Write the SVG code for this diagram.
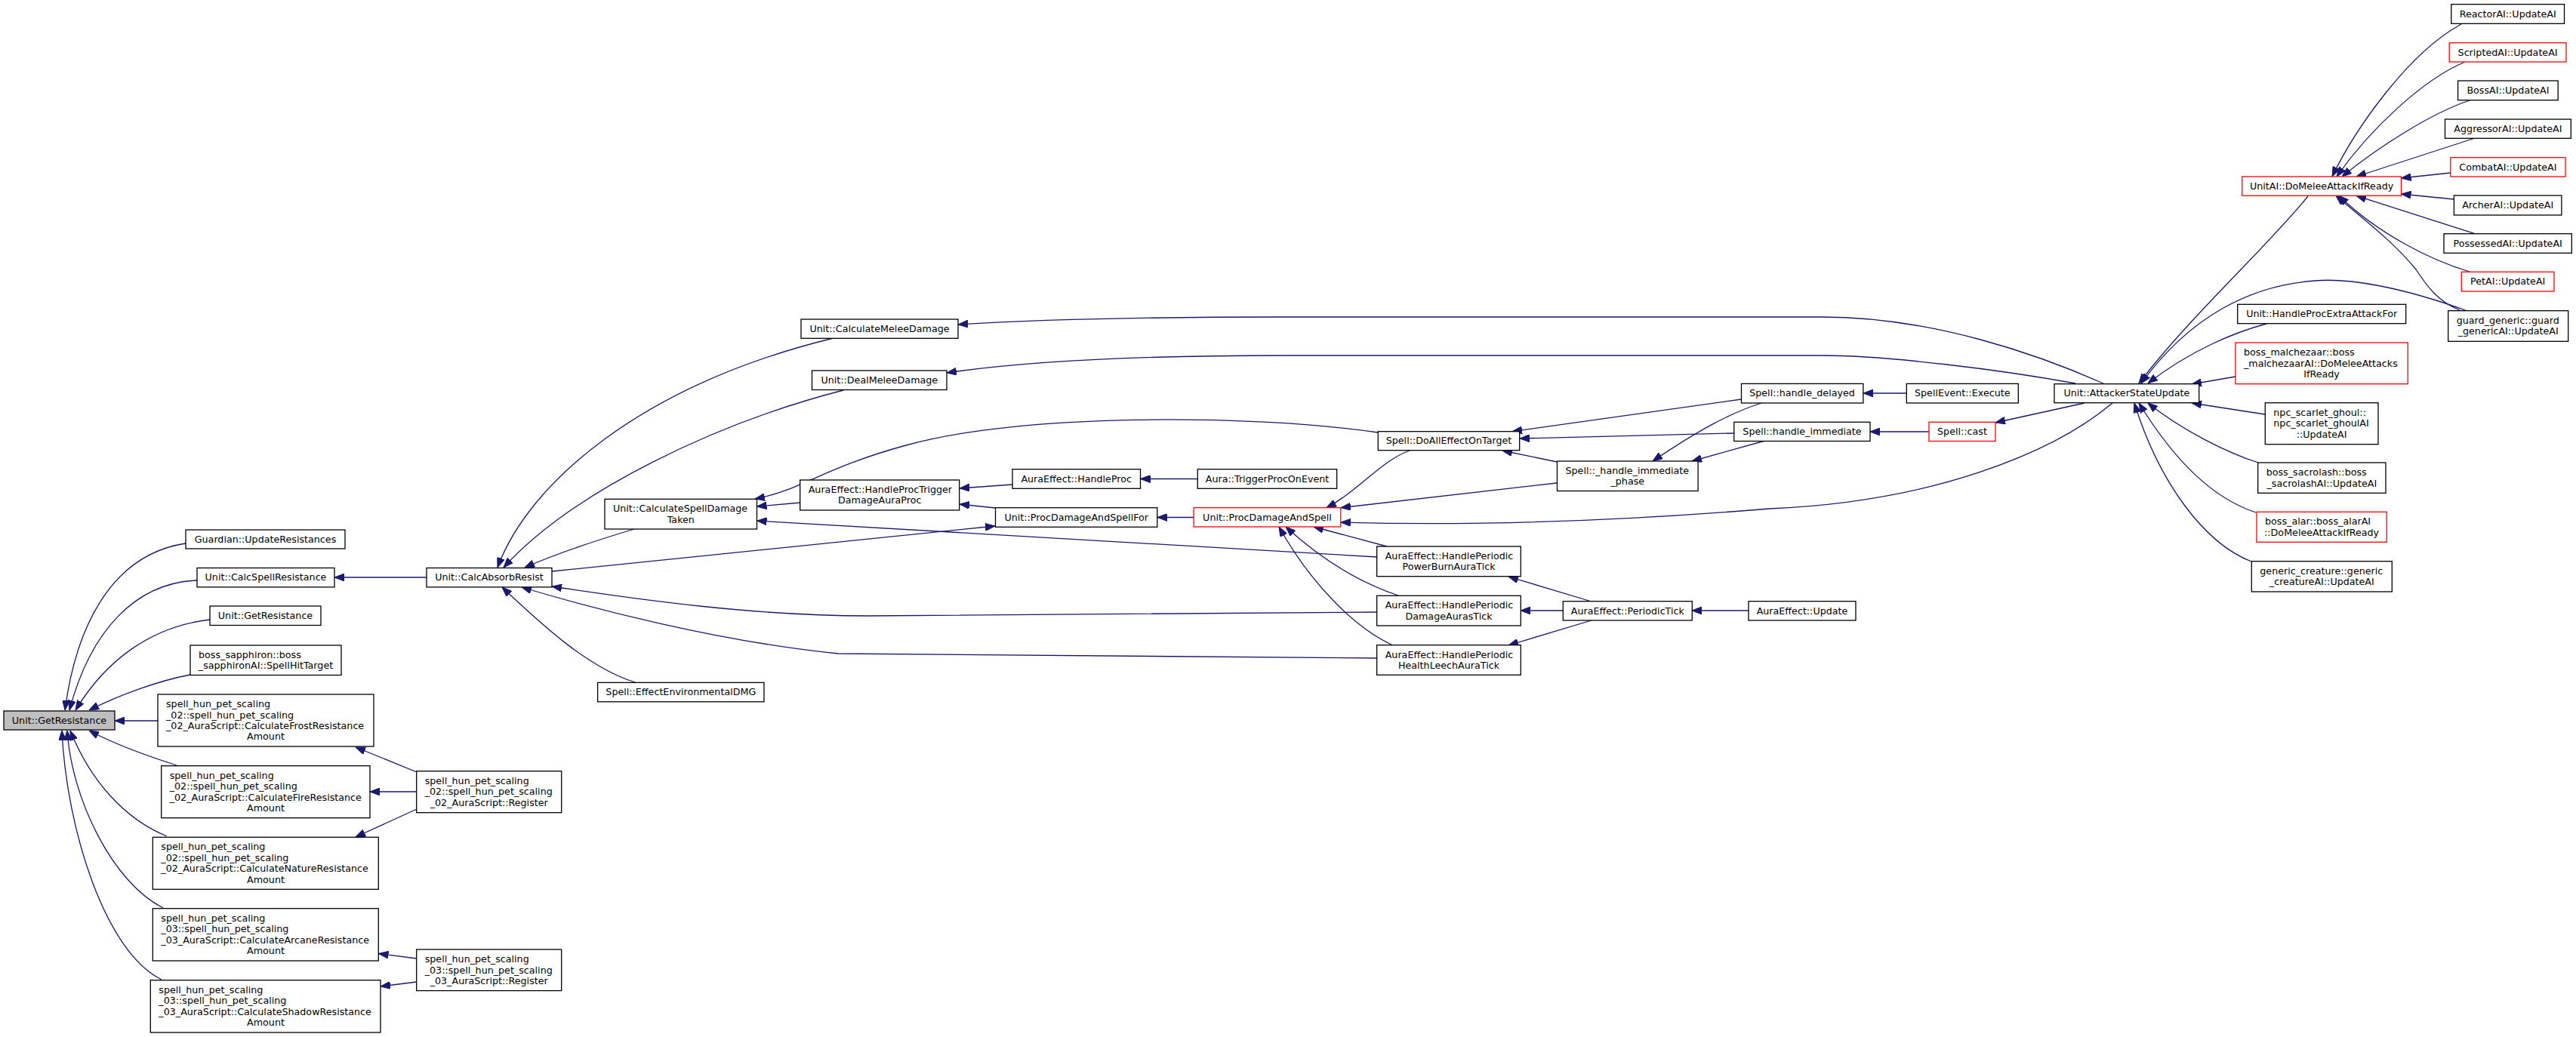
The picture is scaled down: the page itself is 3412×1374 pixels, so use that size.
<svg xmlns="http://www.w3.org/2000/svg" width="3412" height="1374" viewBox="0 0 3412 1374">
<defs>
<style>
.n rect{fill:#fff;stroke:#000;stroke-width:1.3}
.n.r rect{stroke:#f00}
text{font-family:"DejaVu Sans","Liberation Sans",sans-serif;font-size:12.7px;fill:#000}
.c{text-anchor:middle}
.e path{fill:none;stroke:#191970;stroke-width:1.3;marker-end:url(#ah)}
</style>
<marker id="ah" viewBox="0 0 13 10" refX="13" refY="5" markerWidth="13" markerHeight="10" markerUnits="userSpaceOnUse" orient="auto"><path d="M0,0 L13,5 L0,10 z" fill="#191970" stroke="#191970" stroke-width="1"/></marker>
</defs>
<rect x="0" y="0" width="3412" height="1374" fill="#fff"/>
<g id="edges" class="e">
<path d="M246,720 C145,735 100,835 86,941"/>
<path d="M261,769 C180,772 120,835 92,941"/>
<path d="M278,821 C200,830 140,875 100,941"/>
<path d="M252,894 C210,902 160,920 118,941"/>
<path d="M209,955 L152,955"/>
<path d="M234,1014 C190,1000 150,985 118,968"/>
<path d="M221,1108 C165,1085 120,1035 93,968"/>
<path d="M216,1203 C150,1170 95,1060 89,968"/>
<path d="M214,1298 C140,1262 88,1100 82,968"/>
<path d="M565,765 L443,765"/>
<path d="M552,1023 L471,990"/>
<path d="M552,1049 L490,1049"/>
<path d="M552,1072 L471,1109"/>
<path d="M552,1270 L501.5,1263.5"/>
<path d="M552,1301 L504,1307"/>
<path d="M1104,448 C850,510 700,640 659,752"/>
<path d="M1117,517 C950,560 760,650 667,752"/>
<path d="M840,701 C790,716 740,732 695,752"/>
<path d="M731,757 L1318,697"/>
<path d="M1824,811 L1150,816 C1000,816 850,795 731,777"/>
<path d="M1824,872 L1110,866 C950,850 780,805 691,778"/>
<path d="M841,904 C780,885 720,830 665,778"/>
<path d="M2786,508 C2700,470 2560,420 2413,420 L1700,420 C1500,420 1350,425 1269,430"/>
<path d="M2749,508 C2650,490 2500,471 2413,471 L1700,471 C1500,471 1350,480 1254,494"/>
<path d="M1825,573 C1650,548 1350,548 1200,590 C1090,620 1060,650 1000,661"/>
<path d="M1060,666 L1002.5,671"/>
<path d="M1824,738 L1002.5,690"/>
<path d="M1341,642 L1271,647"/>
<path d="M1318,673 L1271,668"/>
<path d="M1586,634.5 L1510.5,634.5"/>
<path d="M1581,685.5 L1533,685.5"/>
<path d="M1867,597 C1830,610 1800,650 1757,672.7"/>
<path d="M2062,640 L1776,672.7"/>
<path d="M2798,534 C2720,600 2560,665 2344,674 C2150,690 1950,697 1776,692"/>
<path d="M1837,724 L1740,698"/>
<path d="M1852,789 C1810,775 1760,750 1703,698"/>
<path d="M1845,855 C1800,835 1740,780 1694,698"/>
<path d="M2306.5,529 L2003,571.7"/>
<path d="M2297,574 L2013,581"/>
<path d="M2062,612 L1990,597"/>
<path d="M2333,534 C2290,548 2250,570 2189,611"/>
<path d="M2336,584.5 L2241,611"/>
<path d="M2525,521 L2468,521"/>
<path d="M2555,572 L2477,572"/>
<path d="M2761,534 L2643,560"/>
<path d="M2108,797 L1998,764"/>
<path d="M2070,809 L2014,809"/>
<path d="M2108,822 L1998,855"/>
<path d="M2316,809 L2241,809"/>
<path d="M3057,260 C3000,330 2900,420 2833,508"/>
<path d="M3268,412 C3180,380 3110,368 3066,372 C2980,378 2900,420 2836,508"/>
<path d="M3002,429 C2960,440 2900,465 2845,508"/>
<path d="M2961,499 L2903,509"/>
<path d="M3000,549 L2903,534"/>
<path d="M2991,613 C2950,600 2890,570 2845,534"/>
<path d="M2988,679 C2930,660 2880,610 2833,534"/>
<path d="M2982,744 C2920,720 2860,640 2827,534"/>
<path d="M3260,32 C3190,70 3120,170 3089,234"/>
<path d="M3265,82 C3210,105 3140,170 3095,234"/>
<path d="M3271,133 C3220,150 3150,195 3102,234"/>
<path d="M3278,183 L3121,234"/>
<path d="M3246,229 L3180.5,236"/>
<path d="M3250,264 L3180.5,257"/>
<path d="M3278,309.7 L3121,259.3"/>
<path d="M3271,360 C3220,345 3150,310 3098,259.3"/>
<path d="M3258,411 C3230,400 3215,380 3200,357 C3170,320 3130,290 3094,259.3"/>
</g>
<g id="n0" class="n"><rect x="5" y="942" width="147" height="25" style="fill:#bfbfbf"/><text x="78.5" y="958.7" class="c">Unit::GetResistance</text></g>
<g id="n1" class="n"><rect x="246" y="702" width="211" height="25"/><text x="351.5" y="718.7" class="c">Guardian::UpdateResistances</text></g>
<g id="n2" class="n"><rect x="261" y="752.5" width="182" height="25.4"/><text x="352" y="769.4" class="c">Unit::CalcSpellResistance</text></g>
<g id="n3" class="n"><rect x="278" y="803" width="147" height="25.5"/><text x="351.5" y="820" class="c">Unit::GetResistance</text></g>
<g id="n4" class="n"><rect x="252" y="855" width="200" height="39.5"/><text x="263" y="871.9">boss_sapphiron::boss</text><text x="352" y="886.3" class="c">_sapphironAI::SpellHitTarget</text></g>
<g id="n5" class="n"><rect x="209" y="920" width="286" height="69"/><text x="220" y="937.1">spell_hun_pet_scaling</text><text x="220" y="951.5">_02::spell_hun_pet_scaling</text><text x="220" y="965.9">_02_AuraScript::CalculateFrostResistance</text><text x="352" y="980.3" class="c">Amount</text></g>
<g id="n6" class="n"><rect x="213.7" y="1014.7" width="276.3" height="69"/><text x="224.7" y="1031.8">spell_hun_pet_scaling</text><text x="224.7" y="1046.2">_02::spell_hun_pet_scaling</text><text x="224.7" y="1060.6">_02_AuraScript::CalculateFireResistance</text><text x="352" y="1075" class="c">Amount</text></g>
<g id="n7" class="n"><rect x="202.3" y="1109.3" width="299" height="69"/><text x="213.3" y="1126.4">spell_hun_pet_scaling</text><text x="213.3" y="1140.8">_02::spell_hun_pet_scaling</text><text x="213.3" y="1155.2">_02_AuraScript::CalculateNatureResistance</text><text x="352" y="1169.6" class="c">Amount</text></g>
<g id="n8" class="n"><rect x="202.3" y="1203.7" width="299" height="69.3"/><text x="213.3" y="1220.9">spell_hun_pet_scaling</text><text x="213.3" y="1235.3">_03::spell_hun_pet_scaling</text><text x="213.3" y="1249.7">_03_AuraScript::CalculateArcaneResistance</text><text x="352" y="1264.1" class="c">Amount</text></g>
<g id="n9" class="n"><rect x="199.3" y="1298.7" width="304.7" height="69.3"/><text x="210.3" y="1315.9">spell_hun_pet_scaling</text><text x="210.3" y="1330.3">_03::spell_hun_pet_scaling</text><text x="210.3" y="1344.7">_03_AuraScript::CalculateShadowResistance</text><text x="352" y="1359.1" class="c">Amount</text></g>
<g id="n10" class="n"><rect x="551.7" y="1021.7" width="192" height="55"/><text x="562.7" y="1039">spell_hun_pet_scaling</text><text x="562.7" y="1053.4">_02::spell_hun_pet_scaling</text><text x="647.7" y="1067.8" class="c">_02_AuraScript::Register</text></g>
<g id="n11" class="n"><rect x="551.7" y="1258" width="192" height="54.6"/><text x="562.7" y="1275.1">spell_hun_pet_scaling</text><text x="562.7" y="1289.5">_03::spell_hun_pet_scaling</text><text x="647.7" y="1303.9" class="c">_03_AuraScript::Register</text></g>
<g id="n12" class="n"><rect x="565" y="752.5" width="166" height="25.4"/><text x="648" y="769.4" class="c">Unit::CalcAbsorbResist</text></g>
<g id="n13" class="n"><rect x="801" y="661.3" width="201.5" height="39.7"/><text x="812" y="678.2">Unit::CalculateSpellDamage</text><text x="901.8" y="692.6" class="c">Taken</text></g>
<g id="n14" class="n"><rect x="791.6" y="904.4" width="220.4" height="25.4"/><text x="901.8" y="921.3" class="c">Spell::EffectEnvironmentalDMG</text></g>
<g id="n15" class="n"><rect x="1061" y="423" width="208" height="25.3"/><text x="1165" y="439.9" class="c">Unit::CalculateMeleeDamage</text></g>
<g id="n16" class="n"><rect x="1075.5" y="491" width="178.5" height="25.5"/><text x="1164.8" y="508" class="c">Unit::DealMeleeDamage</text></g>
<g id="n17" class="n"><rect x="1059.7" y="636" width="211" height="40"/><text x="1070.7" y="653">AuraEffect::HandleProcTrigger</text><text x="1165.2" y="667.4" class="c">DamageAuraProc</text></g>
<g id="n18" class="n"><rect x="1341" y="621.7" width="169.5" height="25.6"/><text x="1425.7" y="638.7" class="c">AuraEffect::HandleProc</text></g>
<g id="n19" class="n"><rect x="1586.3" y="621.7" width="184.4" height="25.6"/><text x="1678.5" y="638.7" class="c">Aura::TriggerProcOnEvent</text></g>
<g id="n20" class="n"><rect x="1318.5" y="672.7" width="214.3" height="25.6"/><text x="1425.7" y="689.7" class="c">Unit::ProcDamageAndSpellFor</text></g>
<g id="n21" class="n r"><rect x="1581.2" y="672.7" width="194.6" height="25.3"/><text x="1678.5" y="689.5" class="c">Unit::ProcDamageAndSpell</text></g>
<g id="n22" class="n"><rect x="1825.3" y="571.7" width="187.4" height="25"/><text x="1919" y="588.4" class="c">Spell::DoAllEffectOnTarget</text></g>
<g id="n23" class="n"><rect x="1823.7" y="724" width="190.6" height="39.7"/><text x="1834.7" y="740.8">AuraEffect::HandlePeriodic</text><text x="1919" y="755.2" class="c">PowerBurnAuraTick</text></g>
<g id="n24" class="n"><rect x="1823.7" y="789.3" width="190.6" height="39.7"/><text x="1834.7" y="806.2">AuraEffect::HandlePeriodic</text><text x="1919" y="820.6" class="c">DamageAurasTick</text></g>
<g id="n25" class="n"><rect x="1823.7" y="854.7" width="190.6" height="39.6"/><text x="1834.7" y="871.5">AuraEffect::HandlePeriodic</text><text x="1919" y="885.9" class="c">HealthLeechAuraTick</text></g>
<g id="n26" class="n"><rect x="2062.5" y="611" width="186.6" height="39.5"/><text x="2073.5" y="627.8">Spell::_handle_immediate</text><text x="2155.8" y="642.2" class="c">_phase</text></g>
<g id="n27" class="n"><rect x="2070.3" y="796.7" width="171" height="25.3"/><text x="2155.8" y="813.5" class="c">AuraEffect::PeriodicTick</text></g>
<g id="n28" class="n"><rect x="2316" y="796.7" width="142" height="25.3"/><text x="2387" y="813.5" class="c">AuraEffect::Update</text></g>
<g id="n29" class="n"><rect x="2306.5" y="508.4" width="161.4" height="25.6"/><text x="2387" y="525.4" class="c">Spell::handle_delayed</text></g>
<g id="n30" class="n"><rect x="2296.8" y="559.3" width="180.2" height="25.2"/><text x="2387" y="576.1" class="c">Spell::handle_immediate</text></g>
<g id="n31" class="n"><rect x="2525.3" y="508.4" width="148" height="25.6"/><text x="2599.3" y="525.4" class="c">SpellEvent::Execute</text></g>
<g id="n32" class="n r"><rect x="2555" y="559.3" width="88" height="25.2"/><text x="2599" y="576.1" class="c">Spell::cast</text></g>
<g id="n33" class="n"><rect x="2721" y="508.7" width="191.7" height="25"/><text x="2816.9" y="525.4" class="c">Unit::AttackerStateUpdate</text></g>
<g id="n34" class="n r"><rect x="2969.8" y="234" width="210.7" height="25.3"/><text x="3075.1" y="250.8" class="c">UnitAI::DoMeleeAttackIfReady</text></g>
<g id="n35" class="n"><rect x="2963.7" y="403.3" width="223" height="25.4"/><text x="3075.2" y="420.2" class="c">Unit::HandleProcExtraAttackFor</text></g>
<g id="n36" class="n r"><rect x="2961" y="454" width="228.3" height="54.7"/><text x="2972" y="471.1">boss_malchezaar::boss</text><text x="2972" y="485.5">_malchezaarAI::DoMeleeAttacks</text><text x="3075.1" y="499.9" class="c">IfReady</text></g>
<g id="n37" class="n"><rect x="3000.3" y="533.7" width="149.7" height="55"/><text x="3011.3" y="551">npc_scarlet_ghoul::</text><text x="3011.3" y="565.4">npc_scarlet_ghoulAI</text><text x="3075.1" y="579.8" class="c">::UpdateAI</text></g>
<g id="n38" class="n"><rect x="2990.7" y="613" width="169.3" height="40.3"/><text x="3001.7" y="630.2">boss_sacrolash::boss</text><text x="3075.3" y="644.6" class="c">_sacrolashAI::UpdateAI</text></g>
<g id="n39" class="n r"><rect x="2989" y="678.3" width="172.3" height="40"/><text x="3000" y="695.3">boss_alar::boss_alarAI</text><text x="3075.1" y="709.7" class="c">::DoMeleeAttackIfReady</text></g>
<g id="n40" class="n"><rect x="2982.3" y="743.7" width="186" height="40.3"/><text x="2993.3" y="760.8">generic_creature::generic</text><text x="3075.3" y="775.2" class="c">_creatureAI::UpdateAI</text></g>
<g id="n41" class="n"><rect x="3246.8" y="5.7" width="149.7" height="25.6"/><text x="3321.7" y="22.7" class="c">ReactorAI::UpdateAI</text></g>
<g id="n42" class="n r"><rect x="3244.2" y="56.7" width="154.8" height="25.3"/><text x="3321.6" y="73.5" class="c">ScriptedAI::UpdateAI</text></g>
<g id="n43" class="n"><rect x="3255.6" y="107" width="132.6" height="25.7"/><text x="3321.9" y="124" class="c">BossAI::UpdateAI</text></g>
<g id="n44" class="n"><rect x="3238.5" y="158" width="166.8" height="25.3"/><text x="3321.9" y="174.8" class="c">AggressorAI::UpdateAI</text></g>
<g id="n45" class="n r"><rect x="3245.8" y="208.7" width="152.2" height="25.3"/><text x="3321.9" y="225.5" class="c">CombatAI::UpdateAI</text></g>
<g id="n46" class="n"><rect x="3250.4" y="259" width="142.5" height="26"/><text x="3321.65" y="276.2" class="c">ArcherAI::UpdateAI</text></g>
<g id="n47" class="n"><rect x="3237" y="309.7" width="169.3" height="25.6"/><text x="3321.65" y="326.7" class="c">PossessedAI::UpdateAI</text></g>
<g id="n48" class="n r"><rect x="3260.3" y="360.3" width="122.7" height="25.7"/><text x="3321.65" y="377.35" class="c">PetAI::UpdateAI</text></g>
<g id="n49" class="n"><rect x="3242.7" y="411.7" width="159" height="40.6"/><text x="3253.7" y="429">guard_generic::guard</text><text x="3322.2" y="443.4" class="c">_genericAI::UpdateAI</text></g>
</svg>
